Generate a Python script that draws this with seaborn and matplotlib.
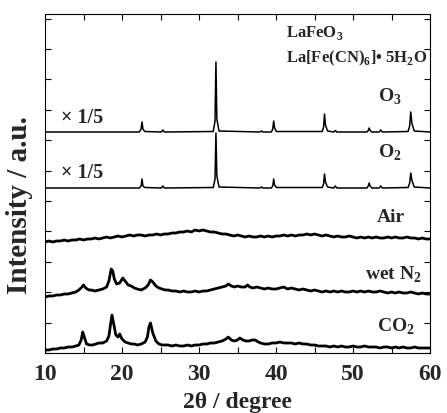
# XRD patterns: LaFeO3 / La[Fe(CN)6]·5H2O under different atmospheres
import numpy as np
import pandas as pd
import matplotlib
matplotlib.use("Agg")
import matplotlib.pyplot as plt
import seaborn as sns
from matplotlib.ticker import MultipleLocator

# Crystalline traces (O3, O2) share the same 2theta points
crystal_tt = [10, 22.25, 22.48, 22.6, 22.72, 22.95, 25.1, 25.3, 25.5,
              31.85, 32.08, 32.2, 32.32, 32.6, 37.9, 38.1, 38.3,
              39.4, 39.58, 39.7, 39.82, 40.05, 46.0, 46.18, 46.3, 46.42, 46.7,
              47.5, 47.7, 47.9, 51.8, 51.98, 52.1, 52.22, 52.45,
              53.4, 53.6, 53.8, 57.15, 57.36, 57.5, 57.64, 57.95, 60]

o3_int = [221, 221, 224, 231, 224, 221.5, 221, 223, 221,
          221.5, 232, 291, 234, 222, 221, 222, 221,
          221, 224, 232, 225, 221.5, 221.5, 226, 239, 228, 222,
          221, 222.5, 221, 221, 222.5, 225, 222.5, 221,
          221, 223, 221, 221.5, 227, 241, 230, 222, 221]

o2_int = [165, 165, 167, 174, 167, 165.5, 165, 167, 165,
          165.5, 174, 220, 177, 166, 165, 166, 165,
          165, 167, 174, 168, 165.5, 165.5, 169, 179, 171, 166,
          165, 167, 165, 165, 167, 170, 167, 165,
          165, 167, 165, 165.5, 170, 180, 173, 166, 165]

# Air: amorphous, broad hump around 30 deg
air_tt = np.arange(10, 60.01, 0.5)
air_int = [111, 112, 111, 112, 112, 113, 112, 113, 113, 114,
           113, 114, 114, 115, 114, 115, 116, 115, 116, 117,
           116, 117, 118, 117, 118, 118, 117, 118, 118, 119,
           118, 119, 119, 120, 120, 121, 121, 122, 121, 123,
           122, 123, 122, 121, 121, 120, 119, 119, 118, 117,
           118, 117, 116, 117, 116, 116, 117, 116, 117, 116,
           117, 117, 118, 117, 118, 117, 118, 118, 119, 118,
           119, 118, 117, 118, 117, 116, 117, 116, 116, 117,
           116, 115, 116, 115, 116, 115, 116, 115, 115, 116,
           115, 116, 115, 115, 116, 115, 115, 114, 115, 114, 114]

# wet N2
wetn2_tt = [10, 10.5, 11, 11.5, 12, 12.5, 13, 13.5, 14, 14.4, 14.8, 15.0, 15.3, 15.7,
            16, 16.5, 17, 17.5, 18, 18.3, 18.6, 18.8, 19.0, 19.3, 19.7, 20.1, 20.4,
            20.8, 21.2, 21.6, 22, 22.5, 23, 23.4, 23.7, 24.0, 24.4, 24.8, 25.2, 25.6,
            26, 26.5, 27, 27.5, 28, 28.5, 29, 29.5, 30, 30.5, 31, 31.5, 32, 32.5,
            33, 33.5, 33.8, 34.2, 34.6, 35, 35.5, 36, 36.3, 36.6, 37, 37.5, 38, 38.5,
            39, 39.5, 40, 40.5, 41, 41.5, 42, 42.5, 43, 43.5, 44, 44.5, 45, 45.5,
            46, 46.5, 47, 47.5, 48, 48.5, 49, 49.5, 50, 50.5, 51, 51.5, 52, 52.5,
            53, 53.5, 54, 54.5, 55, 55.5, 56, 56.5, 57, 57.5, 58, 58.5, 59, 59.5, 60]
wetn2_int = [56, 57, 57, 58, 58, 59, 59, 60, 61, 63, 66, 68, 65, 63,
             63, 62, 63, 64, 66, 72, 84, 82, 74, 69, 70, 75, 72,
             68, 67, 65, 64, 63, 65, 68, 73, 71, 67, 65, 64, 63,
             63, 62, 62, 61, 62, 61, 61, 62, 61, 62, 62, 63, 64, 65,
             66, 67, 69, 67, 66, 67, 66, 66, 68, 66, 65, 66, 65, 64,
             65, 64, 64, 65, 66, 64, 65, 64, 63, 64, 63, 62, 63, 62,
             61, 62, 61, 62, 61, 62, 61, 61, 62, 61, 62, 61, 62, 61,
             61, 62, 61, 60, 61, 60, 61, 60, 60, 61, 60, 59, 60, 59, 59]

# CO2
co2_tt = [10, 10.5, 11, 11.5, 12, 12.5, 13, 13.5, 14, 14.4, 14.7, 14.9, 15.1, 15.4,
          15.8, 16.2, 16.6, 17, 17.5, 18, 18.3, 18.5, 18.7, 18.9, 19.2, 19.5, 19.7,
          20, 20.4, 20.8, 21.2, 21.6, 22, 22.5, 23, 23.3, 23.5, 23.7, 24.0, 24.4,
          24.8, 25.2, 25.6, 26, 26.5, 27, 27.5, 28, 28.5, 29, 29.5, 30, 30.5, 31,
          31.5, 32, 32.5, 33, 33.5, 33.8, 34.2, 34.6, 35, 35.3, 35.7, 36.1, 36.5,
          36.9, 37.3, 37.7, 38, 38.5, 39, 39.5, 40, 40.5, 41, 41.5, 42, 42.5, 43,
          43.5, 44, 44.5, 45, 45.5, 46, 46.5, 47, 47.5, 48, 48.5, 49, 49.5, 50,
          50.5, 51, 51.5, 52, 52.5, 53, 53.5, 54, 54.5, 55, 55.5, 56, 56.5, 57,
          57.5, 58, 58.5, 59, 59.5, 60]
co2_int = [3, 3, 4, 4, 5, 5, 6, 6, 7, 8, 13, 21, 16, 9,
           8, 8, 9, 10, 10, 12, 17, 28, 38, 30, 18, 16, 19,
           14, 11, 10, 9, 9, 8, 9, 11, 16, 26, 30, 20, 12,
           9, 8, 8, 8, 7, 8, 7, 7, 8, 7, 8, 8, 9, 9,
           10, 10, 11, 12, 14, 16, 13, 12, 13, 15, 13, 12, 12,
           13, 13, 11, 10, 9, 9, 10, 10, 11, 10, 10, 10, 9, 10,
           9, 9, 8, 8, 7, 7, 7, 6, 7, 6, 7, 6, 6, 7,
           6, 6, 7, 6, 6, 6, 5, 6, 6, 5, 6, 5, 6, 5,
           5, 6, 5, 5, 5, 5]

sns.set_style("ticks")
plt.rcParams["font.family"] = ["Liberation Serif", "DejaVu Serif"]
plt.rcParams["font.weight"] = "bold"
plt.rcParams["mathtext.fontset"] = "custom"
plt.rcParams["mathtext.rm"] = "Liberation Serif:bold"
plt.rcParams["mathtext.bf"] = "Liberation Serif:bold"

fig = plt.figure(figsize=(4.47, 4.13), dpi=100)
ax = fig.add_axes([45 / 447, 60 / 413, 385 / 447, 339 / 413])

thin = dict(color="black", lw=1.1, estimator=None, sort=False, ax=ax)
thick = dict(color="black", lw=2.0, estimator=None, sort=False, ax=ax)
sns.lineplot(x=crystal_tt, y=o3_int, **thin)
sns.lineplot(x=crystal_tt, y=o2_int, **thin)
sns.lineplot(x=air_tt, y=air_int, **thick)
sns.lineplot(x=wetn2_tt, y=wetn2_int, **thick)
sns.lineplot(x=co2_tt, y=co2_int, **thick)

ax.set_xlim(10, 60)
ax.set_ylim(0, 339)
ax.xaxis.set_major_locator(MultipleLocator(10))
ax.xaxis.set_minor_locator(MultipleLocator(5))
ax.yaxis.set_major_locator(MultipleLocator(30.4))
ax.set_yticklabels([])
ax.tick_params(which="both", direction="in", top=True, right=True,
               length=4, width=0.8, color="black")
ax.tick_params(axis="x", labelsize=17, pad=8)
for s in ax.spines.values():
    s.set_color("black")
    s.set_linewidth(0.8)

ax.set_xlabel("2θ / degree", fontsize=17, fontweight="bold", labelpad=5)
ax.set_ylabel("Intensity / a.u.", fontsize=21, fontweight="bold")
ax.yaxis.set_label_coords(-0.031, 0.437)

# Labels
ax.text(12.1, 235, "× 1/5", fontsize=14.5, fontweight="bold", va="center")
ax.text(12.1, 180, "× 1/5", fontsize=14.5, fontweight="bold", va="center")
ax.text(53.2, 256, r"O$_\mathregular{3}$", fontsize=14, va="center")
ax.text(53.2, 200, r"O$_\mathregular{2}$", fontsize=14, va="center")
ax.text(41.3, 320, r"LaFeO$_\mathregular{3}$", fontsize=12, va="center")
ax.text(41.3, 295, r"La[Fe(CN)$_\mathregular{6}$]• 5H$_\mathregular{2}$O", fontsize=12, va="center")
ax.text(53.1, 135, "Air", fontsize=14, va="center")
ax.text(51.6, 78, r"wet N$_\mathregular{2}$", fontsize=14, va="center")
ax.text(53.1, 26, r"CO$_\mathregular{2}$", fontsize=14, va="center")

plt.savefig("out.png", dpi=100)
